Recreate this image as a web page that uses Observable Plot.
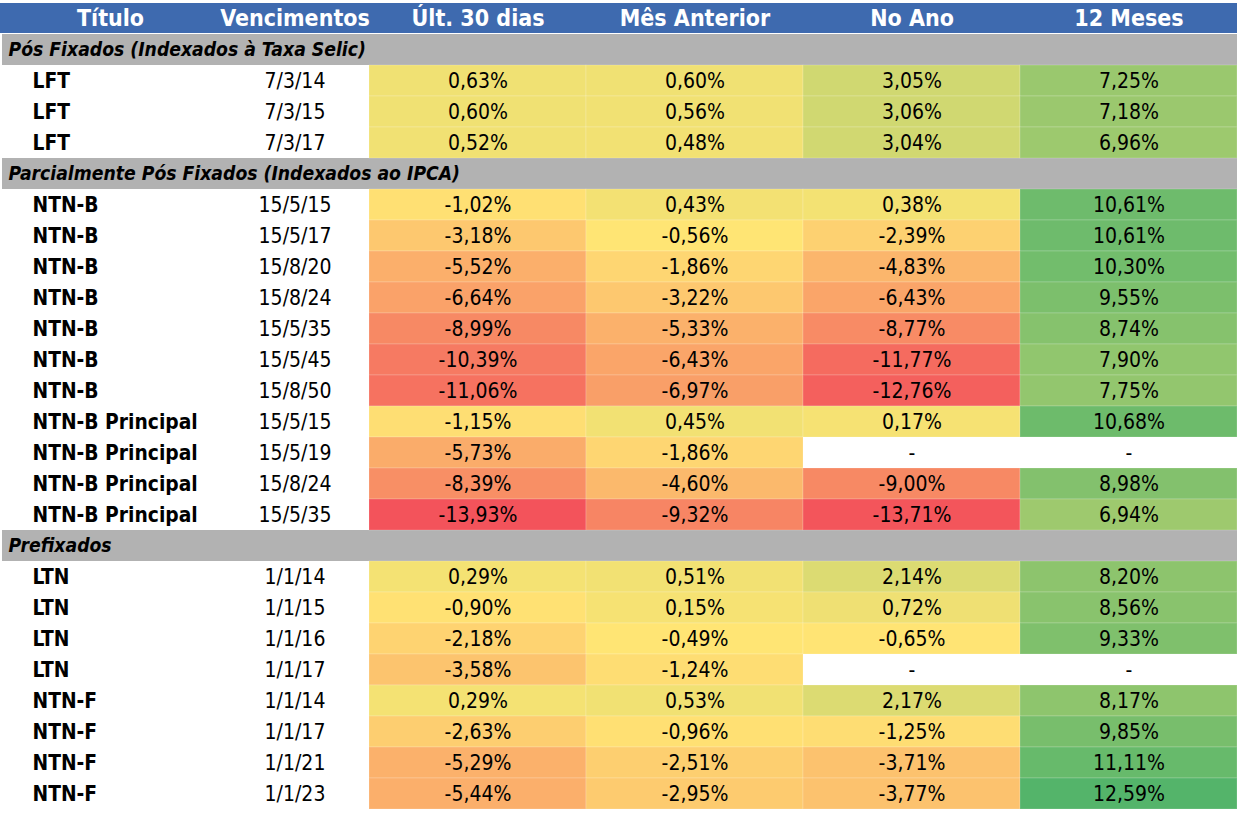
<!DOCTYPE html>
<html>
<head>
<meta charset="utf-8">
<script src="https://cdn.jsdelivr.net/npm/d3@7"></script>
<script src="https://cdn.jsdelivr.net/npm/@observablehq/plot@0.6"></script>
<style>
  html, body { margin: 0; padding: 0; background: #fff; }
  #chart svg text { font-stretch: condensed; }
</style>
</head>
<body>
<div id="chart"></div>
<script>
const colunas = ["Título", "Vencimentos", "Últ. 30 dias", "Mês Anterior", "No Ano", "12 Meses"];
const secoes = ["Pós Fixados (Indexados à Taxa Selic)", "Parcialmente Pós Fixados (Indexados ao IPCA)", "Prefixados"];
const grupos = [0,0,0, 1,1,1,1,1,1,1,1,1,1,1, 2,2,2,2,2,2,2,2];
const titulos = ["LFT","LFT","LFT",
  "NTN-B","NTN-B","NTN-B","NTN-B","NTN-B","NTN-B","NTN-B",
  "NTN-B Principal","NTN-B Principal","NTN-B Principal","NTN-B Principal",
  "LTN","LTN","LTN","LTN","NTN-F","NTN-F","NTN-F","NTN-F"];
const vencimentos = ["7/3/14","7/3/15","7/3/17",
  "15/5/15","15/5/17","15/8/20","15/8/24","15/5/35","15/5/45","15/8/50",
  "15/5/15","15/5/19","15/8/24","15/5/35",
  "1/1/14","1/1/15","1/1/16","1/1/17","1/1/14","1/1/17","1/1/21","1/1/23"];
const ult30 = [0.63, 0.60, 0.52,
  -1.02, -3.18, -5.52, -6.64, -8.99, -10.39, -11.06,
  -1.15, -5.73, -8.39, -13.93,
  0.29, -0.90, -2.18, -3.58, 0.29, -2.63, -5.29, -5.44];
const mesAnterior = [0.60, 0.56, 0.48,
  0.43, -0.56, -1.86, -3.22, -5.33, -6.43, -6.97,
  0.45, -1.86, -4.60, -9.32,
  0.51, 0.15, -0.49, -1.24, 0.53, -0.96, -2.51, -2.95];
const noAno = [3.05, 3.06, 3.04,
  0.38, -2.39, -4.83, -6.43, -8.77, -11.77, -12.76,
  0.17, null, -9.00, -13.71,
  2.14, 0.72, -0.65, null, 2.17, -1.25, -3.71, -3.77];
const meses12 = [7.25, 7.18, 6.96,
  10.61, 10.61, 10.30, 9.55, 8.74, 7.90, 7.75,
  10.68, null, 8.98, 6.94,
  8.20, 8.56, 9.33, null, 8.17, 9.85, 11.11, 12.59];

const series = [ult30, mesAnterior, noAno, meses12];

// build table rows
const secRows = [];
const dataRows = [];
let r = 1;
secoes.forEach((s, g) => {
  secRows.push({row: r++, label: s});
  titulos.forEach((t, i) => {
    if (grupos[i] === g) dataRows.push({row: r++, i, titulo: t, venc: vencimentos[i]});
  });
});
const nRows = r;
const cells = [];
dataRows.forEach(d => series.forEach((s, c) => cells.push({row: d.row, col: c + 2, value: s[d.i]})));
const headers = colunas.map((c, k) => ({col: k, label: c}));

const allVals = cells.map(d => d.value).filter(v => v != null);
const [vmin, vmax] = d3.extent(allVals);
const vmed = d3.median(allVals);
const fmt = v => v == null ? "-" : v.toFixed(2).replace(".", ",") + "%";

const FONT = "'DejaVu Sans Condensed', 'DejaVu Sans', sans-serif";

const chart = Plot.plot({
  width: 1238,
  height: 815,
  margin: 0,
  style: {background: "#fff", fontFamily: FONT},
  x: {type: "linear", domain: [0, 1, 2, 6], range: [0, 220, 369, 1237], axis: null},
  y: {type: "band", domain: d3.range(nRows), range: [2, 810], padding: 0, axis: null},
  color: {type: "linear", domain: [vmin, vmed, vmax], range: ["#F3535B", "#FFE574", "#54B46A"], interpolate: "rgb"},
  marks: [
    Plot.barX([0], {x1: 0, x2: 6, y: d => d, fill: "#3E6AAF", insetBottom: 1}),
    Plot.barX(secRows, {x1: 0, x2: 6, y: "row", fill: "#B2B2B2", insetLeft: 2}),
    Plot.barX(cells, {x1: "col", x2: d => d.col + 1, y: "row", fill: "value", stroke: "#fff", strokeOpacity: 0.18, strokeWidth: 1}),
    Plot.text(headers, {x: d => d.col + 0.5, y: () => 0, text: "label", fill: "#fff", fontWeight: "bold", fontSize: 23, fontFamily: FONT}),
    Plot.text(secRows, {x: 0, y: "row", dx: 8, text: "label", textAnchor: "start", fill: "#000", fontWeight: "bold", fontStyle: "italic", fontSize: 19.2, fontFamily: FONT}),
    Plot.text(dataRows, {x: 0, y: "row", dx: 32, text: "titulo", textAnchor: "start", fill: "#000", fontWeight: "bold", fontSize: 20.8, fontFamily: FONT}),
    Plot.text(dataRows, {x: 1.5, y: "row", text: "venc", fill: "#000", fontSize: 21, fontFamily: FONT}),
    Plot.text(cells, {x: d => d.col + 0.5, y: "row", text: d => fmt(d.value), fill: "#000", fontSize: 21, fontFamily: FONT})
  ]
});
document.getElementById("chart").appendChild(chart);
</script>
</body>
</html>
